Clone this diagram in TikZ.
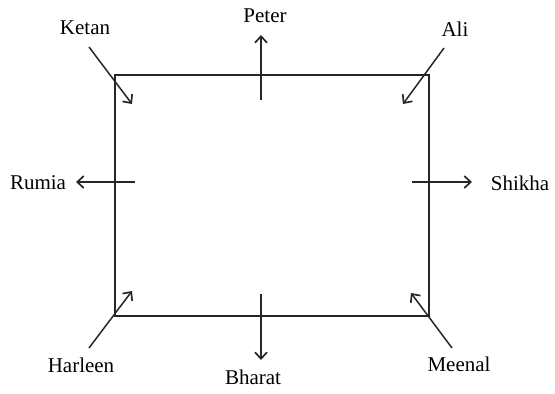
\documentclass[tikz,border=0pt]{standalone}
\usepackage{fontspec}
\setmainfont{Liberation Serif}
\usetikzlibrary{arrows.meta}
\begin{document}
\begin{tikzpicture}[x=1pt,y=-1pt,
  lbl/.style={inner sep=0pt,font=\fontsize{21}{24}\selectfont},
  arr/.style={line width=1.5pt,draw=black!85,-{Straight Barb[length=6.5pt,width=12pt,line width=1.7pt]}},
  box/.style={line width=1.8pt,draw=black!85}]
\useasboundingbox (0,0) rectangle (555,394);
\draw[box] (115,75) rectangle (429,316);
% labels
\node[lbl] (ketan) at (85,28) {Ketan};
\node[lbl] (peter) at (265,16) {Peter};
\node[lbl] (ali) at (455,29) {Ali};
\node[lbl] (rumia) at (38,183) {Rumia};
\node[lbl] (shikha) at (520,183) {Shikha};
\node[lbl] (harleen) at (81,365) {Harleen};
\node[lbl] (bharat) at (253,377) {Bharat};
\node[lbl] (meenal) at (459,364) {Meenal};
% arrow end points
\coordinate (k1) at (89,47);  \coordinate (k2) at (132,104);
\coordinate (a1) at (444,48); \coordinate (a2) at (403,104);
\coordinate (p1) at (261,100); \coordinate (p2) at (261,35);
\coordinate (b1) at (261,294); \coordinate (b2) at (261,360);
\coordinate (r1) at (135,182); \coordinate (r2) at (76,182);
\coordinate (s1) at (412,182); \coordinate (s2) at (472,182);
\coordinate (h1) at (89,348); \coordinate (h2) at (132,291);
\coordinate (m1) at (452,348); \coordinate (m2) at (411,293);
\draw[arr] (k1) -- (k2);
\draw[arr] (a1) -- (a2);
\draw[arr] (p1) -- (p2);
\draw[arr] (b1) -- (b2);
\draw[arr] (r1) -- (r2);
\draw[arr] (s1) -- (s2);
\draw[arr] (h1) -- (h2);
\draw[arr] (m1) -- (m2);
\end{tikzpicture}
\end{document}
